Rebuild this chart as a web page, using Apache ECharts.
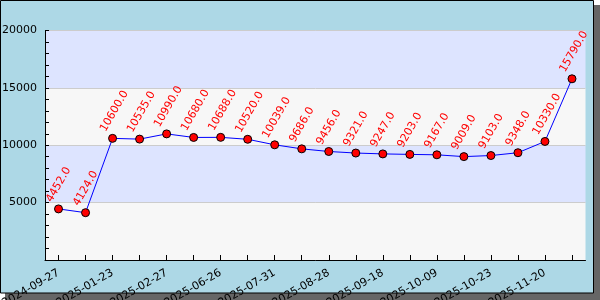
<!DOCTYPE html>
<html><head><meta charset="utf-8">
<script src="https://cdn.jsdelivr.net/npm/echarts@6/dist/echarts.min.js"></script>
<style>html,body{margin:0;padding:0;background:#fff}#c{width:600px;height:300px}</style>
</head><body><div id="c"></div>
<script>
const categories = ['2024-09-27','2024-12-12','2025-01-23','2025-02-06','2025-02-27','2025-05-29','2025-06-26','2025-07-17','2025-07-31','2025-08-14','2025-08-28','2025-09-04','2025-09-18','2025-09-25','2025-10-09','2025-10-16','2025-10-23','2025-11-06','2025-11-20','2025-12-04'];
const values = [4452, 4124, 10600, 10535, 10990, 10680, 10688, 10520, 10039, 9686, 9456, 9321, 9247, 9203, 9167, 9009, 9103, 9348, 10330, 15790];
const yTicks = [0, 5000, 10000, 15000, 20000];

const font = 'DejaVu Sans';
const chart = echarts.init(document.getElementById('c'), null, {renderer: 'canvas'});
chart.setOption({
  backgroundColor: '#ffffff',
  animation: false,
  graphic: [
    {type: 'rect', z: -20, silent: true, shape: {x: 5, y: 5, width: 595, height: 295}, style: {fill: '#666666'}},
    {type: 'rect', z: -19, silent: true, shape: {x: 0.5, y: 0.5, width: 593, height: 292.5}, style: {fill: '#add8e6', stroke: '#000', lineWidth: 1}}
  ],
  grid: {left: 45, top: 30.5, right: 14.5, bottom: 40, containLabel: false, outerBoundsMode: 'none'},
  xAxis: {
    type: 'category',
    data: categories,
    boundaryGap: true,
    axisLine: {lineStyle: {color: '#000', width: 1}},
    axisTick: {show: true, inside: true, length: 5, alignWithLabel: true, interval: 0, lineStyle: {color: '#000'}},
    axisLabel: {interval: 1, rotate: 30, margin: 12, color: '#000', fontFamily: font, fontSize: 11},
    splitLine: {show: false}
  },
  yAxis: {
    type: 'value',
    min: yTicks[0], max: yTicks[yTicks.length - 1], interval: 5000,
    axisLine: {show: true, lineStyle: {color: '#000', width: 1}},
    axisTick: {show: true, inside: true, length: 4, lineStyle: {color: '#000'}},
    minorTick: {show: true, splitNumber: 5, length: 4, lineStyle: {color: '#000'}},
    axisLabel: {color: '#000', fontFamily: font, fontSize: 11, margin: 8, showMinLabel: false, formatter: v => String(v)},
    splitLine: {show: true, lineStyle: {color: '#cccccc', width: 1}},
    splitArea: {show: true, areaStyle: {color: ['#f7f7f7', '#dde4ff']}}
  },
  series: [{
    type: 'line',
    data: values,
    lineStyle: {color: '#0000ff', width: 1},
    itemStyle: {color: '#ff0000', borderColor: '#000', borderWidth: 1},
    symbol: 'circle',
    symbolSize: 8,
    label: {
      show: true,
      position: [-5, -3],
      rotate: 60,
      align: 'left',
      verticalAlign: 'middle',
      color: '#ff0000',
      fontFamily: font,
      fontSize: 11,
      formatter: p => Number(p.value).toFixed(1)
    }
  }]
});
</script></body></html>
